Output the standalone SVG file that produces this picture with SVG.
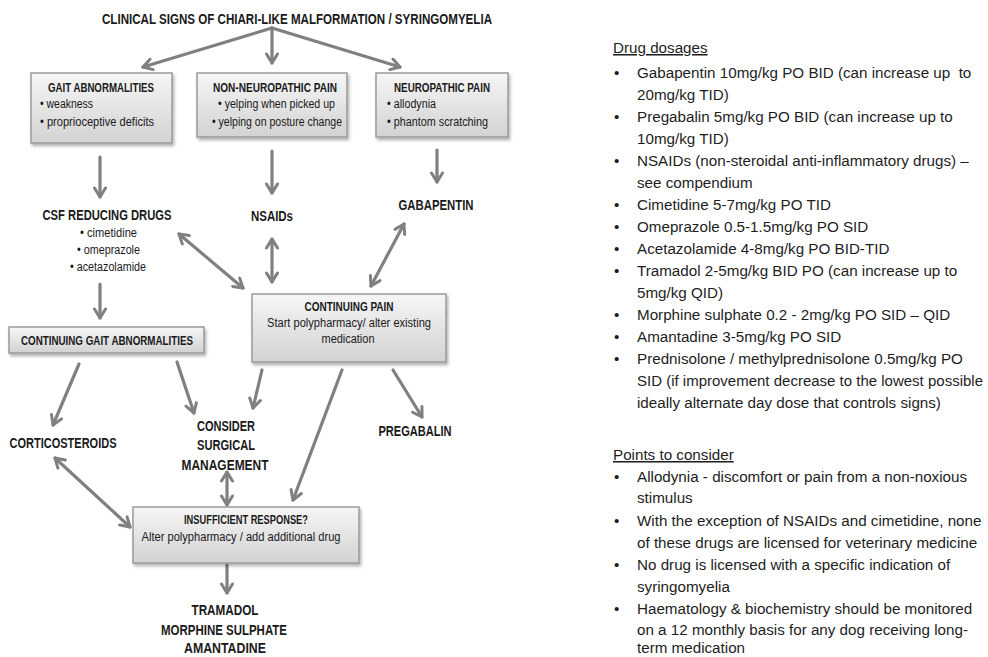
<svg xmlns="http://www.w3.org/2000/svg" width="988" height="657" viewBox="0 0 988 657">
<style>
.lb{font-family:"Liberation Sans",Arial,sans-serif;font-weight:bold;fill:#1a1a1a;text-anchor:middle}
.tx{font-family:"Liberation Sans",Arial,sans-serif;fill:#1a1a1a;text-anchor:middle}
.rt{font-family:"Liberation Sans",Arial,sans-serif;font-size:15.2px;fill:#1e1e1e}
.box{fill:url(#bg);stroke:#9a9a9a;stroke-width:1.5;filter:url(#sh)}
.ar{fill:none;stroke:#808080;stroke-width:3.2;stroke-linecap:round;marker-end:url(#ah)}
.ar2{fill:none;stroke:#808080;stroke-width:3.2;stroke-linecap:round;marker-end:url(#ah);marker-start:url(#ah)}
</style>
<defs>
<linearGradient id="bg" x1="0" y1="0" x2="0" y2="1">
<stop offset="0" stop-color="#f6f6f6"/>
<stop offset="1" stop-color="#d2d2d2"/>
</linearGradient>
<filter id="sh" x="-10%" y="-10%" width="120%" height="130%">
<feDropShadow dx="1.5" dy="2.5" stdDeviation="1.5" flood-color="#000" flood-opacity="0.3"/>
</filter>
<marker id="ah" viewBox="0 0 14 14" refX="12" refY="7" markerWidth="14" markerHeight="14" orient="auto-start-reverse" markerUnits="userSpaceOnUse">
<path d="M3,1.5 L12,7 L3,12.5" fill="none" stroke="#808080" stroke-width="3" stroke-linecap="round" stroke-linejoin="round"/>
</marker>
</defs>
<rect width="988" height="657" fill="#ffffff"/>

<g id="connectors">
<line class="ar" x1="272" y1="28" x2="143" y2="67"/>
<line class="ar" x1="272" y1="28" x2="272" y2="63"/>
<line class="ar" x1="272" y1="28" x2="400" y2="67"/>
<line class="ar" x1="100" y1="157" x2="100" y2="197"/>
<line class="ar" x1="272" y1="151" x2="272" y2="193"/>
<line class="ar" x1="437" y1="150" x2="437" y2="182"/>
<line class="ar2" x1="179" y1="234" x2="243" y2="288"/>
<line class="ar2" x1="272" y1="239" x2="272" y2="282"/>
<line class="ar2" x1="404" y1="224" x2="371" y2="286"/>
<line class="ar" x1="100" y1="284" x2="100" y2="318"/>
<line class="ar" x1="79" y1="364" x2="53" y2="425"/>
<line class="ar" x1="177" y1="362" x2="194" y2="413"/>
<line class="ar" x1="262" y1="370" x2="253" y2="408"/>
<line class="ar" x1="342" y1="370" x2="293" y2="500"/>
<line class="ar" x1="393" y1="370" x2="422" y2="417"/>
<line class="ar2" x1="55" y1="458" x2="130" y2="527"/>
<line class="ar2" x1="227" y1="472" x2="227" y2="505"/>
<line class="ar" x1="227" y1="565" x2="227" y2="593"/>
</g>

<g id="title">
<text class="lb" x="297" y="24" font-size="14.5" textLength="390" lengthAdjust="spacingAndGlyphs">CLINICAL SIGNS OF CHIARI-LIKE MALFORMATION / SYRINGOMYELIA</text>
</g>

<g id="gait">
<rect class="box" x="31" y="73" width="141" height="70"/>
<text class="lb" x="101" y="92" font-size="12.5" textLength="106" lengthAdjust="spacingAndGlyphs">GAIT ABNORMALITIES</text>
<text class="tx" x="66.5" y="108" font-size="12.5" textLength="53" lengthAdjust="spacingAndGlyphs">• weakness</text>
<text class="tx" x="97" y="126" font-size="12.5" textLength="114" lengthAdjust="spacingAndGlyphs">• proprioceptive deficits</text>
</g>

<g id="nonneuro">
<rect class="box" x="197" y="73" width="150" height="64"/>
<text class="lb" x="275" y="92" font-size="12.5" textLength="124" lengthAdjust="spacingAndGlyphs">NON-NEUROPATHIC PAIN</text>
<text class="tx" x="276.5" y="108" font-size="12.5" textLength="117" lengthAdjust="spacingAndGlyphs">• yelping when picked up</text>
<text class="tx" x="277" y="126" font-size="12.5" textLength="130" lengthAdjust="spacingAndGlyphs">• yelping on posture change</text>
</g>

<g id="neuro">
<rect class="box" x="376" y="73" width="132" height="64"/>
<text class="lb" x="442" y="92" font-size="12.5" textLength="96" lengthAdjust="spacingAndGlyphs">NEUROPATHIC PAIN</text>
<text class="tx" x="411.5" y="108" font-size="12.5" textLength="49" lengthAdjust="spacingAndGlyphs">• allodynia</text>
<text class="tx" x="437.5" y="126" font-size="12.5" textLength="101" lengthAdjust="spacingAndGlyphs">• phantom scratching</text>
</g>

<g id="csf">
<text class="lb" x="107" y="220" font-size="14.5" textLength="129" lengthAdjust="spacingAndGlyphs">CSF REDUCING DRUGS</text>
<text class="tx" x="108.5" y="237" font-size="12.5" textLength="57" lengthAdjust="spacingAndGlyphs">• cimetidine</text>
<text class="tx" x="108.5" y="254" font-size="12.5" textLength="63" lengthAdjust="spacingAndGlyphs">• omeprazole</text>
<text class="tx" x="108" y="271" font-size="12.5" textLength="76" lengthAdjust="spacingAndGlyphs">• acetazolamide</text>
</g>

<g id="nsaids">
<text class="lb" x="272" y="221" font-size="14.5" textLength="42" lengthAdjust="spacingAndGlyphs">NSAIDs</text>
</g>

<g id="gabapentin">
<text class="lb" x="436" y="210" font-size="14.5" textLength="75" lengthAdjust="spacingAndGlyphs">GABAPENTIN</text>
</g>

<g id="contgait">
<rect class="box" x="9" y="327" width="195" height="26"/>
<text class="lb" x="107" y="345" font-size="12.5" textLength="172" lengthAdjust="spacingAndGlyphs">CONTINUING GAIT ABNORMALITIES</text>
</g>

<g id="contpain">
<rect class="box" x="252" y="294" width="194" height="68"/>
<text class="lb" x="349" y="311" font-size="12.5" textLength="89" lengthAdjust="spacingAndGlyphs">CONTINUING PAIN</text>
<text class="tx" x="349" y="327" font-size="12.5" textLength="164" lengthAdjust="spacingAndGlyphs">Start polypharmacy/ alter existing</text>
<text class="tx" x="348" y="343" font-size="12.5" textLength="53" lengthAdjust="spacingAndGlyphs">medication</text>
</g>

<g id="corticosteroids">
<text class="lb" x="63" y="448" font-size="14.5" textLength="107" lengthAdjust="spacingAndGlyphs">CORTICOSTEROIDS</text>
</g>

<g id="surgical">
<text class="lb" x="226" y="431" font-size="14.5" textLength="58" lengthAdjust="spacingAndGlyphs">CONSIDER</text>
<text class="lb" x="226" y="450" font-size="14.5" textLength="58" lengthAdjust="spacingAndGlyphs">SURGICAL</text>
<text class="lb" x="225" y="470" font-size="14.5" textLength="87" lengthAdjust="spacingAndGlyphs">MANAGEMENT</text>
</g>

<g id="pregabalin">
<text class="lb" x="415" y="436" font-size="14.5" textLength="73" lengthAdjust="spacingAndGlyphs">PREGABALIN</text>
</g>

<g id="insufficient">
<rect class="box" x="133" y="507" width="226" height="56"/>
<text class="lb" x="246" y="524" font-size="12.5" textLength="124" lengthAdjust="spacingAndGlyphs">INSUFFICIENT RESPONSE?</text>
<text class="tx" x="241" y="541" font-size="12.5" textLength="199" lengthAdjust="spacingAndGlyphs">Alter polypharmacy / add additional drug</text>
</g>

<g id="opioids">
<text class="lb" x="225" y="615" font-size="14.5" textLength="67" lengthAdjust="spacingAndGlyphs">TRAMADOL</text>
<text class="lb" x="224" y="635" font-size="14.5" textLength="126" lengthAdjust="spacingAndGlyphs">MORPHINE SULPHATE</text>
<text class="lb" x="225" y="653" font-size="14.5" textLength="82" lengthAdjust="spacingAndGlyphs">AMANTADINE</text>
</g>

<g id="dosages">
<text class="rt" x="613" y="53" text-decoration="underline">Drug dosages</text>
<text class="rt" x="614" y="78">•</text><text class="rt" x="637" y="78">Gabapentin 10mg/kg PO BID (can increase up&#160; to</text>
<text class="rt" x="637" y="100">20mg/kg TID)</text>
<text class="rt" x="614" y="122">•</text><text class="rt" x="637" y="122">Pregabalin 5mg/kg PO BID (can increase up to</text>
<text class="rt" x="637" y="144">10mg/kg TID)</text>
<text class="rt" x="614" y="166">•</text><text class="rt" x="637" y="166">NSAIDs (non-steroidal anti-inflammatory drugs) –</text>
<text class="rt" x="637" y="188">see compendium</text>
<text class="rt" x="614" y="210">•</text><text class="rt" x="637" y="210">Cimetidine 5-7mg/kg PO TID</text>
<text class="rt" x="614" y="232">•</text><text class="rt" x="637" y="232">Omeprazole 0.5-1.5mg/kg PO SID</text>
<text class="rt" x="614" y="254">•</text><text class="rt" x="637" y="254">Acetazolamide 4-8mg/kg PO BID-TID</text>
<text class="rt" x="614" y="276">•</text><text class="rt" x="637" y="276">Tramadol 2-5mg/kg BID PO (can increase up to</text>
<text class="rt" x="637" y="298">5mg/kg QID)</text>
<text class="rt" x="614" y="320">•</text><text class="rt" x="637" y="320">Morphine sulphate 0.2 - 2mg/kg PO SID – QID</text>
<text class="rt" x="614" y="342">•</text><text class="rt" x="637" y="342">Amantadine 3-5mg/kg PO SID</text>
<text class="rt" x="614" y="364">•</text><text class="rt" x="637" y="364">Prednisolone / methylprednisolone 0.5mg/kg PO</text>
<text class="rt" x="637" y="386" textLength="346" lengthAdjust="spacingAndGlyphs">SID (if improvement decrease to the lowest possible</text>
<text class="rt" x="637" y="408">ideally alternate day dose that controls signs)</text>
</g>

<g id="points">
<text class="rt" x="613" y="460" text-decoration="underline">Points to consider</text>
<text class="rt" x="614" y="482">•</text><text class="rt" x="637" y="482">Allodynia - discomfort or pain from a non-noxious</text>
<text class="rt" x="637" y="503">stimulus</text>
<text class="rt" x="614" y="526">•</text><text class="rt" x="637" y="526">With the exception of NSAIDs and cimetidine, none</text>
<text class="rt" x="637" y="548">of these drugs are licensed for veterinary medicine</text>
<text class="rt" x="614" y="570">•</text><text class="rt" x="637" y="570">No drug is licensed with a specific indication of</text>
<text class="rt" x="637" y="592">syringomyelia</text>
<text class="rt" x="614" y="614">•</text><text class="rt" x="637" y="614">Haematology &amp; biochemistry should be monitored</text>
<text class="rt" x="637" y="635">on a 12 monthly basis for any dog receiving long-</text>
<text class="rt" x="637" y="653">term medication</text>
</g>
</svg>
